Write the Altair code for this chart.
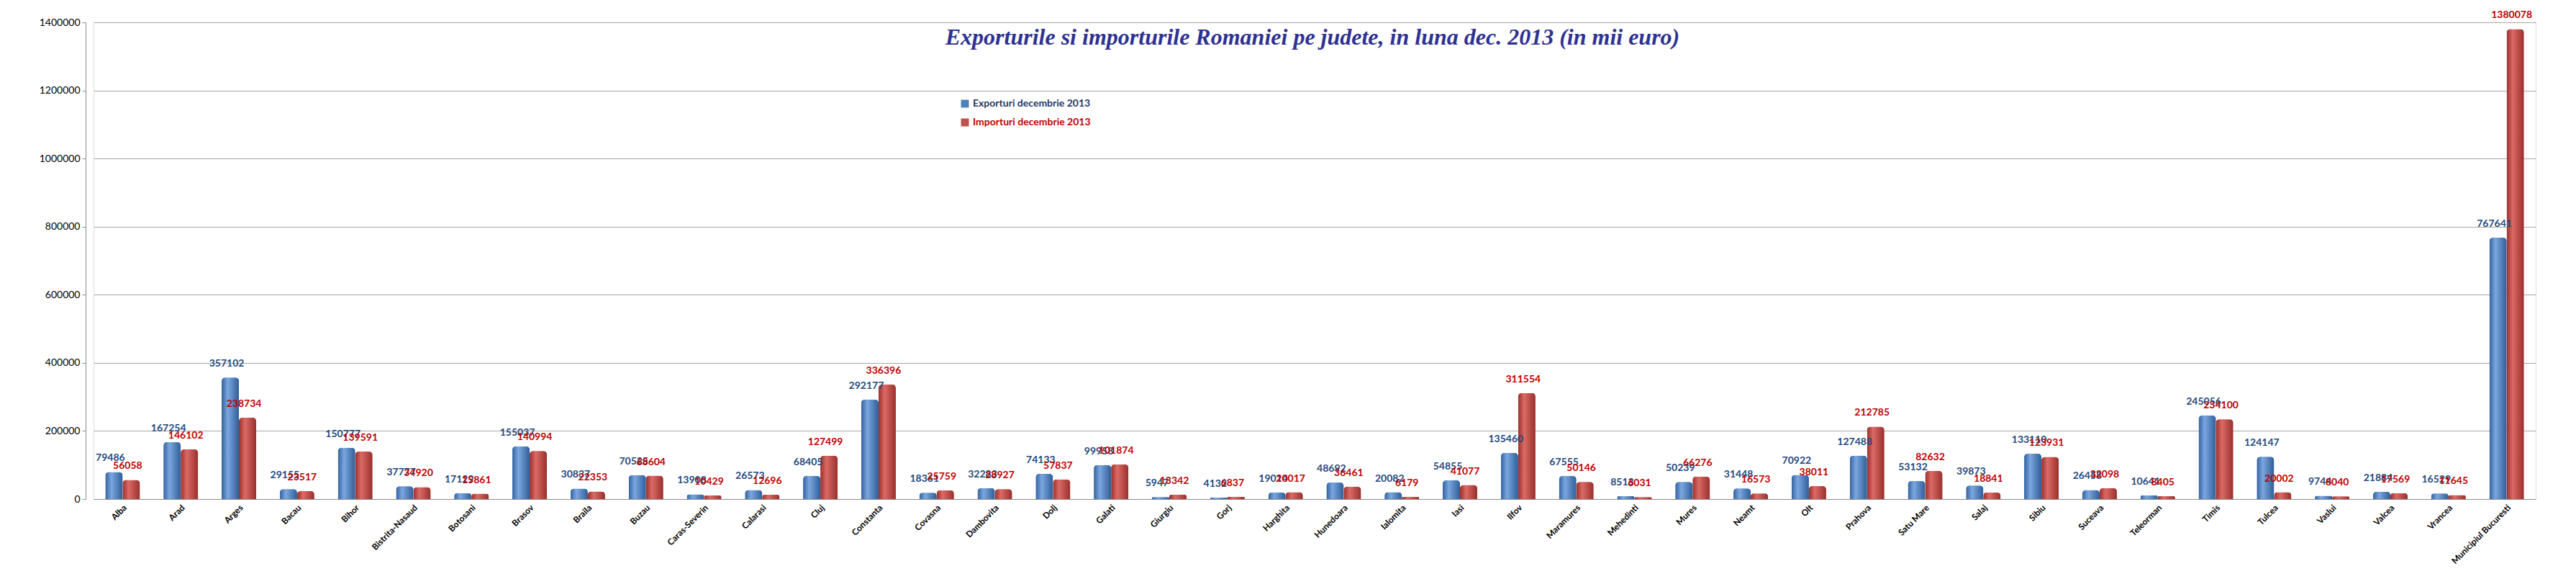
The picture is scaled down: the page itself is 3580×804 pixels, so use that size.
import altair as alt
import pandas as pd

counties = ["Alba", "Arad", "Arges", "Bacau", "Bihor", "Bistrita-Nasaud", "Botosani", "Brasov",
            "Braila", "Buzau", "Caras-Severin", "Calarasi", "Cluj", "Constanta", "Covasna",
            "Dambovita", "Dolj", "Galati", "Giurgiu", "Gorj", "Harghita", "Hunedoara", "Ialomita",
            "Iasi", "Ilfov", "Maramures", "Mehedinti", "Mures", "Neamt", "Olt", "Prahova",
            "Satu Mare", "Salaj", "Sibiu", "Suceava", "Teleorman", "Timis", "Tulcea", "Vaslui",
            "Valcea", "Vrancea", "Municipiul Bucuresti"]

exports = [79486, 167254, 357102, 29155, 150777, 37777, 17129, 155037,
           30837, 70525, 13908, 26573, 68405, 292177, 18361,
           32283, 74133, 99958, 5947, 4132, 19014, 48692, 20082,
           54855, 135460, 67555, 8513, 50239, 31448, 70922, 127488,
           53132, 39873, 133110, 26458, 10641, 245056, 124147, 9744,
           21884, 16529, 767641]

imports = [56058, 146102, 238734, 23517, 139591, 34920, 15861, 140994,
           22353, 68604, 10429, 12696, 127499, 336396, 25759,
           28927, 57837, 101874, 13342, 6837, 20017, 36461, 6179,
           41077, 311554, 50146, 6031, 66276, 16573, 38011, 212785,
           82632, 18841, 123931, 32098, 8405, 234100, 20002, 8040,
           17569, 11645, 1380078]

series_names = ["Exporturi  decembrie 2013", "Importuri  decembrie 2013"]
y_ticks = [0, 200000, 400000, 600000, 800000, 1000000, 1200000, 1400000]
title_text = "Exporturile si importurile Romaniei pe judete, in luna dec. 2013 (in mii euro)"

rows = []
for c, e, i in zip(counties, exports, imports):
    rows.append({"county": c, "series": series_names[0], "value": e})
    rows.append({"county": c, "series": series_names[1], "value": i})
df = pd.DataFrame(rows)

W, H = 3394, 662

xenc = alt.X("county:N", sort=counties,
             scale=alt.Scale(paddingInner=0.406, paddingOuter=0.203),
             axis=alt.Axis(title=None, labelAngle=-45, labelFontSize=12, labelFontWeight="bold",
                           labelFont="Lato", labelColor="#000000", ticks=False,
                           domainColor="#8C8C8C", labelPadding=6, labelLimit=0))
xoff = alt.XOffset("series:N", sort=series_names)
yenc = alt.Y("value:Q", scale=alt.Scale(domain=[0, 1400000], nice=False),
             axis=alt.Axis(title=None, values=y_ticks, format="d", gridColor="#A6A6A6",
                           domainColor="#8C8C8C", tickColor="#8C8C8C", tickSize=5,
                           labelFontSize=14, labelFont="Lato", labelColor="#000000",
                           offset=11, labelPadding=3))

base = alt.Chart(df).encode(x=xenc, xOffset=xoff, y=yenc)

label_expr = "datum.label === '" + series_names[0] + "' ? '#1F3864' : '#C00000'"

bars = base.mark_bar(cornerRadiusTopLeft=5, cornerRadiusTopRight=5).encode(
    color=alt.Color("series:N", sort=series_names,
                    scale=alt.Scale(domain=series_names, range=["#4F81BD", "#C0504D"]),
                    legend=alt.Legend(title=None, orient="none", legendX=1204, legendY=106,
                                      symbolType="square", symbolSize=120, labelFontSize=14,
                                      labelFont="Lato", labelFontWeight="bold", rowPadding=12,
                                      symbolStrokeWidth=0, labelLimit=0,
                                      labelColor={"expr": label_expr}))
)

grad_blue = {"gradient": "linear", "x1": 0, "x2": 1, "y1": 0, "y2": 0,
             "stops": [{"offset": 0, "color": "#3362A0"}, {"offset": 0.35, "color": "#7BA7E0"},
                       {"offset": 1, "color": "#305E98"}]}
grad_red = {"gradient": "linear", "x1": 0, "x2": 1, "y1": 0, "y2": 0,
            "stops": [{"offset": 0, "color": "#9A302C"}, {"offset": 0.35, "color": "#DC6A66"},
                      {"offset": 1, "color": "#98302C"}]}

g1 = base.transform_filter(alt.datum.series == series_names[0]).mark_bar(
    color=grad_blue, cornerRadiusTopLeft=5, cornerRadiusTopRight=5)
g2 = base.transform_filter(alt.datum.series == series_names[1]).mark_bar(
    color=grad_red, cornerRadiusTopLeft=5, cornerRadiusTopRight=5)

texts = base.mark_text(baseline="bottom", dy=-12, dx=-5, fontSize=14, fontWeight="bold", font="Lato").encode(
    text=alt.Text("value:Q", format="d"),
    color=alt.Color("series:N", scale=alt.Scale(domain=series_names, range=["#1F497D", "#C00000"]),
                    legend=None)
)

title = alt.Chart(pd.DataFrame({"t": [title_text]})).mark_text(
    font="Liberation Serif", fontSize=32, fontStyle="italic", fontWeight="bold",
    color="#2E3192", align="center", baseline="middle").encode(
    text="t:N", x=alt.value(1694), y=alt.value(21))

frame = alt.Chart(pd.DataFrame({"a": [0]})).mark_rect(filled=False, stroke="#8C8C8C", strokeWidth=2).encode(
    x=alt.value(-129), x2=alt.value(3449), y=alt.value(-30), y2=alt.value(770))

chart = alt.layer(frame, bars, g1, g2, texts, title).resolve_scale(color="independent").properties(
    width=W, height=H,
    autosize=alt.AutoSizeParams(type="none"),
    padding={"left": 122, "top": 23, "right": 40, "bottom": 100},
).configure_view(stroke=None).configure(background="#FFFFFF")

chart.save("out.html", embed_options={"renderer": "svg", "actions": False})
